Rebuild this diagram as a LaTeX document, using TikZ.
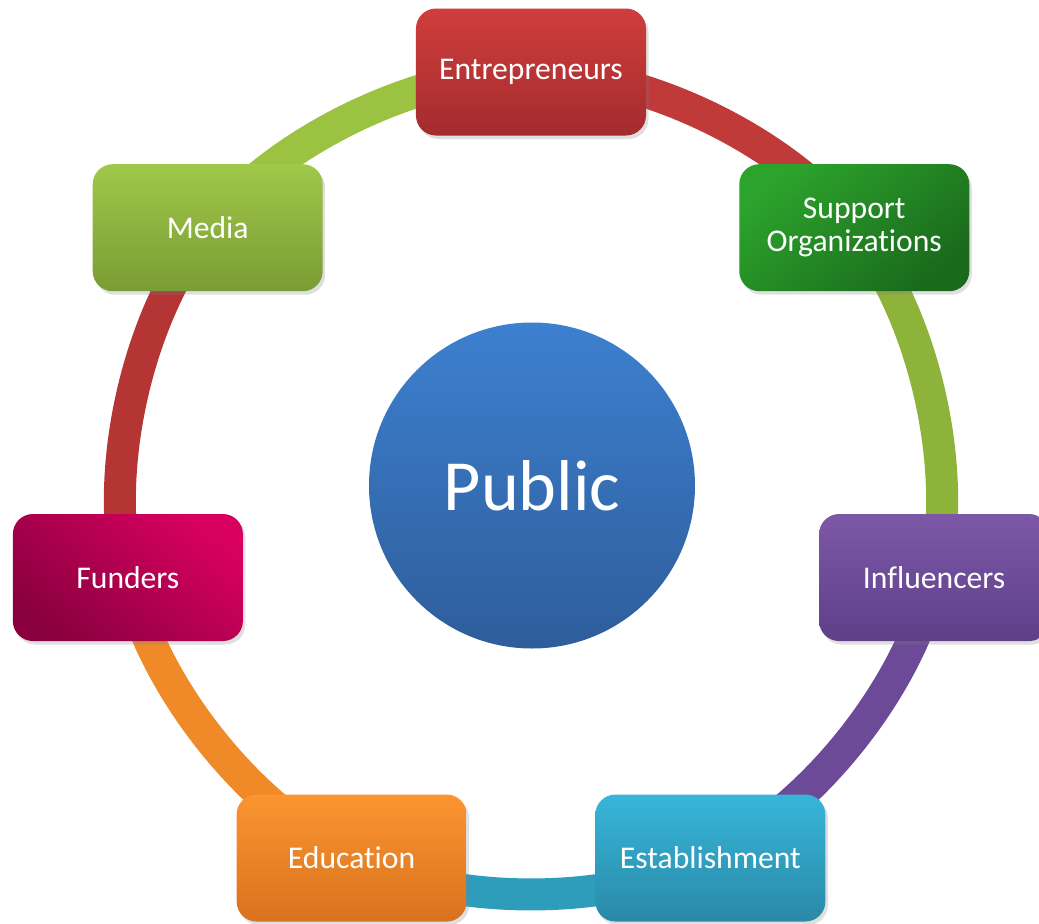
\documentclass[tikz,border=0pt]{standalone}
\usepackage{fontspec}
\setmainfont{Carlito}[Ligatures=NoCommon]
\usetikzlibrary{backgrounds, shadows}

\definecolor{enttop}{HTML}{D03D3C}
\definecolor{entbot}{HTML}{A32C2D}
\definecolor{suptop}{HTML}{2CA32C}
\definecolor{supbot}{HTML}{1A6A1C}
\definecolor{inftop}{HTML}{7D58A8}
\definecolor{infbot}{HTML}{5E3F88}
\definecolor{esttop}{HTML}{37B6DA}
\definecolor{estbot}{HTML}{2A89A7}
\definecolor{edutop}{HTML}{FB9530}
\definecolor{edubot}{HTML}{D9721E}
\definecolor{funtop}{HTML}{D8005F}
\definecolor{funbot}{HTML}{8A003F}
\definecolor{medtop}{HTML}{A0C84A}
\definecolor{medbot}{HTML}{7A9C34}
\definecolor{pubtop}{HTML}{3D80D0}
\definecolor{pubbot}{HTML}{2E5D9A}
\definecolor{ringred}{HTML}{C03A3A}
\definecolor{ringolive}{HTML}{8DB33B}
\definecolor{ringpurple}{HTML}{6C4A98}
\definecolor{ringteal}{HTML}{2E9DBB}
\definecolor{ringorange}{HTML}{F08A28}
\definecolor{ringdark}{HTML}{B53535}
\definecolor{ringlime}{HTML}{9BC241}

\begin{document}
\begin{tikzpicture}[every node/.style={text=white}]
    % Styles for boxes and ring
    \tikzstyle{box} = [rectangle, rounded corners=0.4cm, minimum width=4.6cm, minimum height=2.54cm, align=center, font=\fontsize{18}{19}\selectfont, drop shadow={shadow xshift=0.05cm, shadow yshift=-0.07cm, opacity=0.25}]
    \tikzstyle{ring} = [line width=0.64cm]

    \useasboundingbox (-10.62,-8.75) rectangle (10.16,9.71);

    % Centre
    \node[circle, minimum size=6.52cm, top color=pubtop, bottom color=pubbot, font=\fontsize{41}{41}\selectfont] (public) at (0.02,0) {Public};

    % Nodes
    \node[box, top color=enttop, bottom color=entbot] (entrepreneurs) at (90:8.27) {Entrepreneurs};
    \node[box, top color=suptop, bottom color=supbot, shading angle=40] (support) at (38.57:8.27) {Support\\Organizations};
    \node[box, top color=inftop, bottom color=infbot] (influencers) at (-12.86:8.27) {Influencers};
    \node[box, top color=esttop, bottom color=estbot] (establishment) at (-64.29:8.27) {Establishment};
    \node[box, top color=edutop, bottom color=edubot] (education) at (-115.71:8.27) {Education};
    \node[box, top color=funtop, bottom color=funbot, shading angle=-40] (funders) at (-167.14:8.27) {Funders};
    \node[box, top color=medtop, bottom color=medbot] (media) at (141.43:8.27) {Media};

    % Ring
    \begin{scope}[on background layer]
    \draw[ring, ringred] (entrepreneurs.center) to[bend left=25.7, looseness=0.8] (support.center);
    \draw[ring, ringolive] (support.center) to[bend left=25.7, looseness=0.8] (influencers.center);
    \draw[ring, ringpurple] (influencers.center) to[bend left=25.7, looseness=0.8] (establishment.center);
    \draw[ring, ringteal] (establishment.center) to[bend left=25.7, looseness=0.8] (education.center);
    \draw[ring, ringorange] (education.center) to[bend left=25.7, looseness=0.8] (funders.center);
    \draw[ring, ringdark] (funders.center) to[bend left=25.7, looseness=0.8] (media.center);
    \draw[ring, ringlime] (media.center) to[bend left=25.7, looseness=0.8] (entrepreneurs.center);
    \end{scope}
\end{tikzpicture}
\end{document}
